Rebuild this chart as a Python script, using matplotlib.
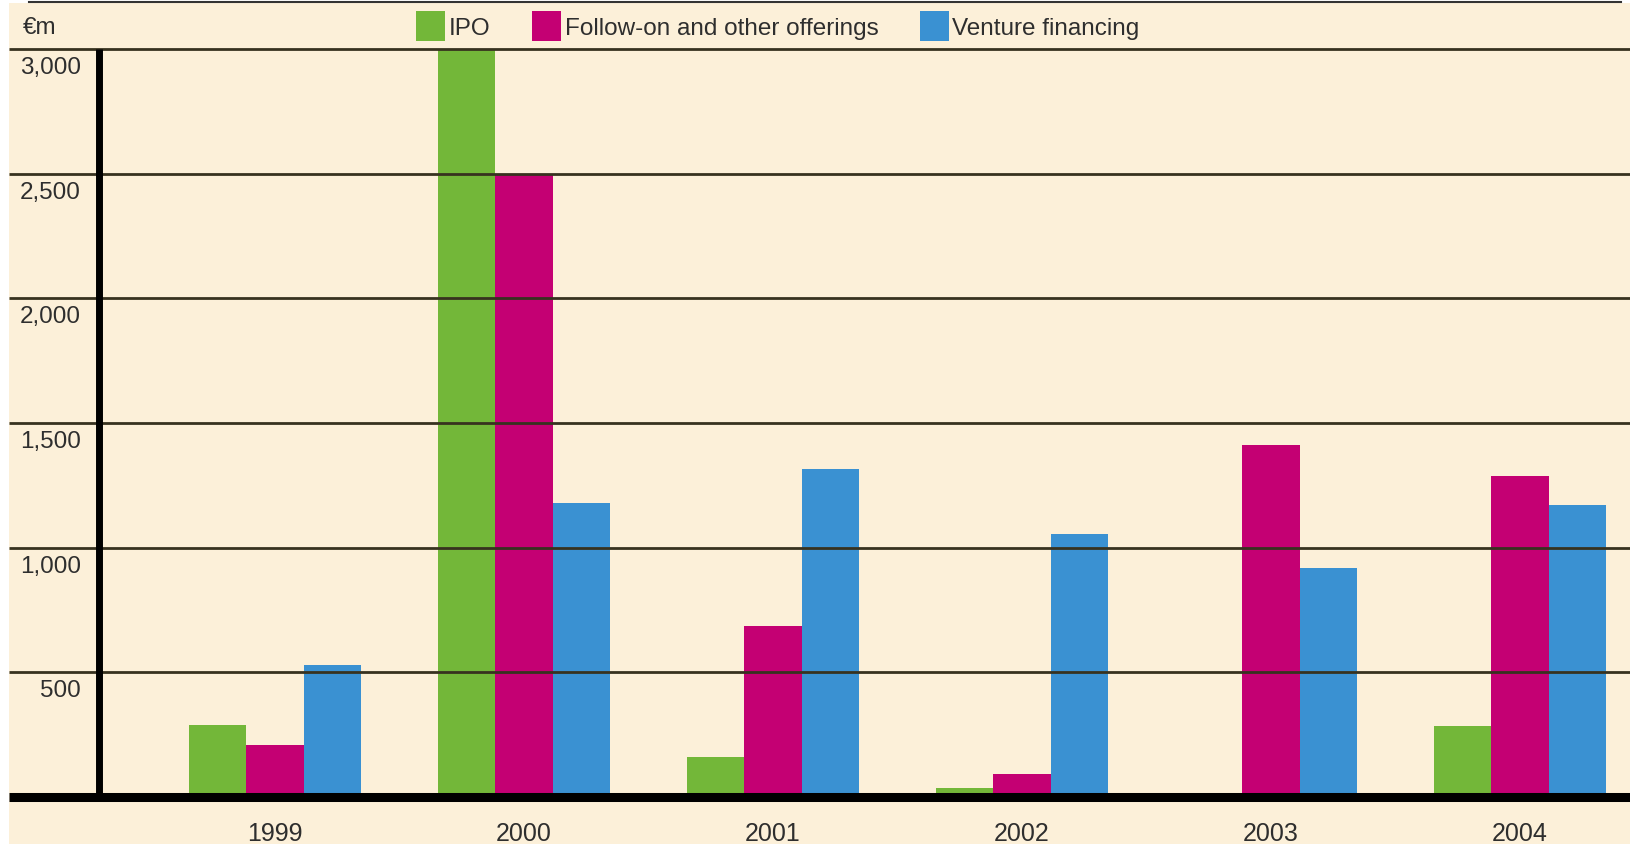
import matplotlib
matplotlib.use('Agg')
import matplotlib.pyplot as plt
import matplotlib.transforms as mtransforms
from matplotlib.patches import Rectangle, Patch
from matplotlib.lines import Line2D
import numpy as np

plt.rcParams['font.family'] = ['Liberation Sans', 'DejaVu Sans']

years = ['1999', '2000', '2001', '2002', '2003', '2004']
ipo = [288, 3000, 160, 35, 0, 285]
follow_on = [210, 2500, 685, 94, 1413, 1287]
venture = [529, 1179, 1316, 1055, 917, 1171]
series_names = ['IPO', 'Follow-on and other offerings', 'Venture financing']
colors = ['#73b739', '#c40073', '#3a91d2']
yticks = [500, 1000, 1500, 2000, 2500, 3000]
ytick_labels = ['500', '1,000', '1,500', '2,000', '2,500', '3,000']

cream = '#fcf0d9'
textcol = '#2e2e2e'
W, H = 1630, 845
fs = 17.5

fig = plt.figure(figsize=(W / 100, H / 100), dpi=100, facecolor='white')
fig.patches.append(Rectangle((9 / W, 0), 1 - 9 / W, 1 - 4 / H, transform=fig.transFigure,
                             facecolor=cream, edgecolor='none', zorder=-5))
fig.add_artist(Line2D([29 / W, 1621 / W], [1 - 3 / H, 1 - 3 / H], color='#333333', lw=1.5))

ax = fig.add_axes([9 / W, 47 / H, 1 - 9 / W, (795 - 47) / H])
ax.set_facecolor(cream)
for s in ax.spines.values():
    s.set_visible(False)

x = np.arange(len(years))
bw = 0.231
for k, vals in enumerate([ipo, follow_on, venture]):
    ax.bar(x + (k - 1) * bw, vals, width=bw, color=colors[k], zorder=2, label=series_names[k])

ax.set_xlim(-1.068, 5.442)
ax.set_ylim(0, 3000)

# gridlines over the bars
for v in yticks:
    ax.axhline(v, color='#37321f', lw=2.0, zorder=3, clip_on=False, solid_capstyle='butt')
ax.axhline(0, color='black', lw=6.5, zorder=4, clip_on=False, solid_capstyle='butt')
ax.axvline(-0.707, color='black', lw=5, zorder=4, solid_capstyle='butt')

ax.set_yticks([])
ax.set_xticks(x)
ax.set_xticklabels(years, fontsize=18, color=textcol)
ax.tick_params(axis='x', length=0, pad=17)

lab_tr = mtransforms.offset_copy(ax.transData, fig=fig, x=0, y=-18, units='dots')
for v, lab in zip(yticks, ytick_labels):
    ax.text(-0.779, v, lab, transform=lab_tr, ha='right', va='center', fontsize=fs, color=textcol)

fig.text(23 / W, 1 - 28 / H, '€m', ha='left', va='center', fontsize=fs, color=textcol)

handles = [Patch(facecolor=c, edgecolor='none') for c in colors]
fig.legend(handles, series_names, loc='center left', bbox_to_anchor=(416 / W, 1 - 27 / H),
           ncol=3, frameon=False, fontsize=fs, handlelength=1.2, handleheight=1.5,
           handletextpad=0.15, columnspacing=1.7, borderpad=0, borderaxespad=0,
           labelcolor=textcol)

fig.savefig('out.png', dpi=100, facecolor='white')
